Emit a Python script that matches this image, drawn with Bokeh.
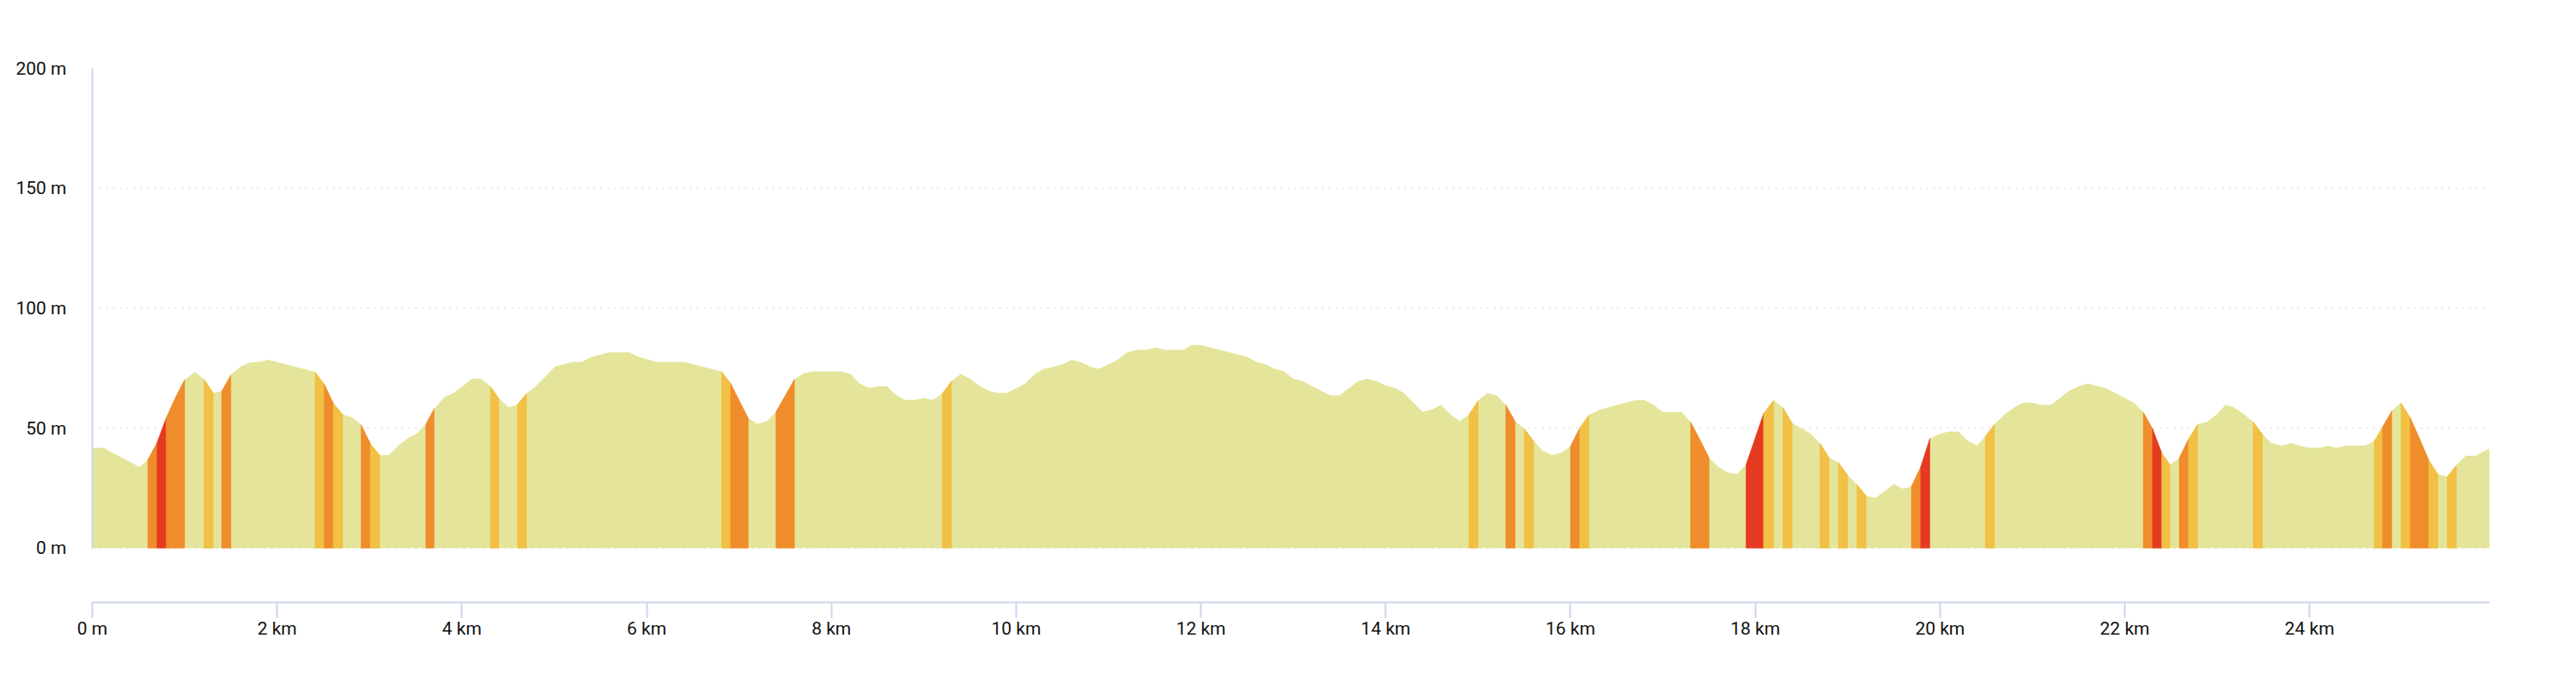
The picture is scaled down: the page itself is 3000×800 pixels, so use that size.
import numpy as np
from bokeh.plotting import figure
from bokeh.models import Range1d, FixedTicker, CustomJSTickFormatter
from bokeh.embed import file_html
from bokeh.resources import INLINE

# ---- data ----
distance_km = [
    0.00, 0.12, 0.51, 0.60, 0.70, 0.80, 0.91, 1.00, 1.11, 1.21, 1.31, 1.40, 1.50, 1.61, 1.71, 1.81, 1.91,
    2.41, 2.51, 2.61, 2.71, 2.81, 2.91, 3.01, 3.11, 3.21, 3.31, 3.41, 3.51, 3.61, 3.70, 3.81, 3.91, 4.01,
    4.11, 4.21, 4.31, 4.40, 4.51, 4.60, 4.70, 4.81, 5.01, 5.20, 5.30, 5.41, 5.60, 5.81, 5.91, 6.11, 6.41,
    6.81, 6.91, 7.10, 7.20, 7.30, 7.40, 7.60, 7.70, 7.80, 8.10, 8.21, 8.30, 8.41, 8.50, 8.60, 8.70, 8.80,
    8.90, 9.00, 9.10, 9.20, 9.30, 9.40, 9.50, 9.60, 9.71, 9.80, 9.90, 10.00, 10.10, 10.20, 10.30, 10.40,
    10.50, 10.60, 10.71, 10.81, 10.90, 11.00, 11.10, 11.20, 11.30, 11.41, 11.51, 11.61, 11.81, 11.90, 12.00,
    12.50, 12.60, 12.70, 12.80, 12.90, 13.00, 13.10, 13.40, 13.50, 13.70, 13.80, 13.90, 14.00, 14.10, 14.20,
    14.30, 14.40, 14.50, 14.60, 14.70, 14.80, 14.90, 15.00, 15.10, 15.20, 15.30, 15.40, 15.50, 15.60, 15.70,
    15.80, 15.90, 16.00, 16.10, 16.20, 16.31, 16.70, 16.80, 16.90, 17.00, 17.20, 17.30, 17.40, 17.50, 17.60,
    17.70, 17.80, 17.90, 18.09, 18.20, 18.30, 18.40, 18.50, 18.60, 18.70, 18.80, 18.90, 19.00, 19.10, 19.20,
    19.30, 19.40, 19.50, 19.60, 19.69, 19.79, 19.89, 20.00, 20.10, 20.20, 20.30, 20.40, 20.49, 20.59, 20.70,
    20.80, 20.90, 21.00, 21.10, 21.20, 21.30, 21.39, 21.50, 21.60, 21.80, 21.90, 22.00, 22.10, 22.20, 22.30,
    22.40, 22.49, 22.59, 22.69, 22.79, 22.89, 22.99, 23.09, 23.17, 23.28, 23.39, 23.49, 23.59, 23.70, 23.80,
    23.90, 23.99, 24.10, 24.20, 24.29, 24.39, 24.60, 24.70, 24.79, 24.89, 24.99, 25.09, 25.19, 25.29, 25.39,
    25.49, 25.59, 25.69, 25.79, 25.95,
]
elevation_m = [
    41.8, 41.8, 33.8, 36.8, 43.9, 54.3, 63.6, 70.2, 73.5, 70.4, 64.6, 65.4, 72.2, 75.8, 77.4, 77.6, 78.5,
    73.5, 68.4, 60.3, 55.7, 54.5, 51.4, 43.6, 38.7, 38.7, 42.7, 45.7, 47.6, 51.7, 58.1, 62.9, 64.6, 67.5,
    70.6, 70.6, 67.4, 62.4, 58.7, 59.8, 64.4, 67.8, 75.7, 77.6, 77.6, 79.8, 81.6, 81.6, 79.7, 77.6, 77.6,
    73.6, 68.6, 54.1, 51.8, 52.9, 56.7, 70.4, 72.8, 73.6, 73.6, 72.6, 68.7, 66.7, 67.5, 67.5, 63.8, 61.7,
    61.7, 62.5, 61.7, 64.4, 69.6, 72.6, 70.6, 67.7, 65.5, 64.7, 64.7, 66.6, 68.6, 72.6, 74.6, 75.5,
    76.6, 78.5, 77.4, 75.5, 74.7, 76.6, 78.6, 81.5, 82.6, 82.6, 83.7, 82.6, 82.6, 84.6, 84.6,
    79.7, 77.6, 76.6, 74.7, 73.6, 70.6, 69.6, 63.6, 63.6, 69.6, 70.6, 69.6, 67.7, 66.7, 64.6,
    60.6, 56.8, 57.8, 59.7, 55.8, 52.9, 55.6, 61.5, 64.7, 63.6, 59.7, 52.9, 49.8, 44.7, 40.6,
    38.7, 39.7, 42.4, 50.1, 55.5, 57.6, 61.6, 61.6, 59.7, 56.7, 56.7, 52.6, 45.3, 37.7, 33.8,
    31.6, 30.8, 34.7, 56.1, 61.6, 58.6, 52.1, 49.9, 47.7, 43.7, 37.7, 35.7, 30.5, 26.6, 21.8,
    20.8, 23.7, 26.7, 24.7, 25.7, 33.8, 45.7, 47.7, 48.6, 48.6, 44.7, 42.8, 46.5, 51.6, 55.7,
    58.6, 60.6, 60.6, 59.7, 59.7, 62.5, 65.4, 67.5, 68.6, 66.6, 64.6, 62.5, 60.6, 56.6, 49.8,
    39.7, 34.8, 37.6, 45.5, 51.6, 52.6, 55.6, 59.7, 58.9, 56.1, 52.6, 47.5, 43.7, 42.7, 43.7,
    42.7, 41.8, 41.8, 42.7, 41.8, 42.7, 42.7, 44.6, 50.5, 57.2, 60.6, 54.4, 45.7, 36.8, 30.8,
    29.8, 34.6, 38.5, 38.5, 41.5,
]

# steep stretches: start km, end km, grade class (1 = moderate, 2 = steep, 3 = very steep)
band_start_km = [0.60, 0.70, 0.80, 1.21, 1.40, 2.41, 2.51, 2.61, 2.91, 3.01, 3.61, 4.31, 4.60, 6.81, 6.91,
                 7.40, 9.20, 14.90, 15.30, 15.50, 16.00, 16.10, 17.30, 17.90, 18.09, 18.30, 18.70, 18.90,
                 19.10, 19.69, 19.79, 20.49, 22.20, 22.30, 22.40, 22.59, 22.69, 23.39, 24.70, 24.79, 24.99,
                 25.09, 25.29, 25.49]
band_end_km = [0.70, 0.80, 1.00, 1.31, 1.50, 2.51, 2.61, 2.71, 3.01, 3.11, 3.70, 4.40, 4.70, 6.91, 7.10,
               7.60, 9.30, 15.00, 15.40, 15.60, 16.10, 16.20, 17.50, 18.09, 18.20, 18.40, 18.80, 19.00,
               19.20, 19.79, 19.89, 20.59, 22.30, 22.40, 22.49, 22.69, 22.79, 23.49, 24.79, 24.89, 25.09,
               25.29, 25.39, 25.59]
band_grade = [2, 3, 2, 1, 2, 1, 2, 1, 2, 1, 2, 1, 1, 1, 2,
              2, 1, 1, 2, 1, 2, 1, 2, 3, 1, 1, 1, 1,
              1, 2, 3, 1, 2, 3, 1, 2, 1, 1, 1, 2, 1,
              2, 1, 1]

x_ticks_km = [0, 2, 4, 6, 8, 10, 12, 14, 16, 18, 20, 22, 24]
y_ticks_m = [0, 50, 100, 150, 200]

BASE_COLOR = "#e4e59a"
GRADE_COLORS = {1: "#f1c044", 2: "#ef8c2b", 3: "#e53a22"}
AXIS_COLOR = "#ccd6eb"
TEXT_COLOR = "#111111"

dist = np.array(distance_km)
elev = np.array(elevation_m)

p = figure(width=2992, height=778, output_backend="svg", toolbar_location=None,
           x_range=Range1d(0, dist[-1]), y_range=Range1d(-22.66, max(y_ticks_m)),
           min_border_left=107, min_border_right=93, min_border_top=79, min_border_bottom=77)
p.outline_line_color = None
p.background_fill_color = "white"
p.border_fill_color = "white"

# base profile
p.varea(x=dist, y1=np.zeros_like(elev), y2=elev, fill_color=BASE_COLOR)

# steep bands
xs, ys, cols = [], [], []
for s, e, g in zip(band_start_km, band_end_km, band_grade):
    m = (dist >= s - 1e-9) & (dist <= e + 1e-9)
    bx = dist[m]
    by = elev[m]
    xs.append([bx[0]] + list(bx) + [bx[-1]])
    ys.append([0.0] + list(by) + [0.0])
    cols.append(GRADE_COLORS[g])
p.patches(xs=xs, ys=ys, fill_color=cols, line_color=cols, line_width=0.5)

# grid
p.xgrid.visible = False
p.ygrid.ticker = FixedTicker(ticks=y_ticks_m)
p.ygrid.grid_line_color = "#e6e6e6"
p.ygrid.grid_line_dash = "2 6"
p.ygrid.grid_line_width = 2

# y axis
ya = p.yaxis[0]
ya.ticker = FixedTicker(ticks=y_ticks_m)
ya.formatter = CustomJSTickFormatter(code="return tick + ' m'")
ya.bounds = (min(y_ticks_m), max(y_ticks_m))
ya.axis_line_color = AXIS_COLOR
ya.axis_line_width = 2
ya.major_tick_line_color = None
ya.minor_tick_line_color = None
ya.major_tick_in = 0
ya.major_tick_out = 0
ya.major_label_standoff = 30
ya.major_label_text_font = "Roboto"
ya.major_label_text_font_size = "21px"
ya.major_label_text_color = TEXT_COLOR

# x axis
xa = p.xaxis[0]
xa.ticker = FixedTicker(ticks=x_ticks_km)
xa.formatter = CustomJSTickFormatter(code="return tick == 0 ? '0 m' : tick + ' km'")
xa.axis_line_color = AXIS_COLOR
xa.axis_line_width = 2
xa.major_tick_line_color = AXIS_COLOR
xa.major_tick_line_width = 2
xa.minor_tick_line_color = None
xa.major_tick_in = 0
xa.major_tick_out = 18
xa.major_label_standoff = 0
xa.major_label_text_font = "Roboto"
xa.major_label_text_font_size = "21px"
xa.major_label_text_color = TEXT_COLOR

open("out.html", "w").write(file_html(p, INLINE))
